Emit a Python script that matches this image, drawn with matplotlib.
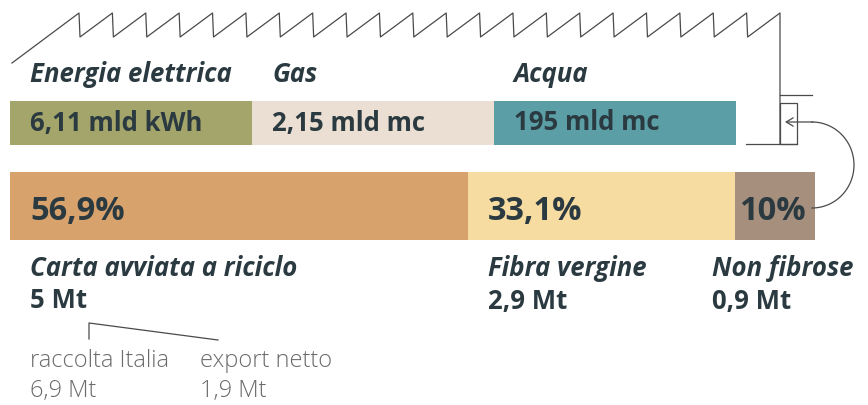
import numpy as np
import matplotlib.pyplot as plt
from matplotlib.patches import Rectangle

# resources consumed (top bar)
res_names = ['Energia elettrica', 'Gas', 'Acqua']
res_values = ['6,11 mld kWh', '2,15 mld mc', '195 mld mc']
res_colors = ['#a3a56b', '#eadfd2', '#5b9ea6']

# fibre mix (bottom bar)
mix_shares = [56.9, 33.1, 10.0]
mix_labels = ['56,9%', '33,1%', '10%']
mix_names = ['Carta avviata a riciclo', 'Fibra vergine', 'Non fibrose']
mix_tons = ['5 Mt', '2,9 Mt', '0,9 Mt']
mix_colors = ['#d7a26c', '#f7dca2', '#a68f7c']

# breakdown of recycled paper
sub_names = ['raccolta Italia', 'export netto']
sub_tons = ['6,9 Mt', '1,9 Mt']

dark = '#2a3a40'
grey = '#6b6b6b'
line_c = '#4a4a4a'
plt.rcParams['font.family'] = ['Open Sans', 'DejaVu Sans']

fig = plt.figure(figsize=(8.68, 4.05), dpi=100)
ax = fig.add_axes([0, 0, 1, 1])
ax.set_xlim(0, 868)
ax.set_ylim(405, 0)
ax.axis('off')

# sawtooth roof
peaks = np.linspace(79, 780, 22)
xs = [12, peaks[0]]
ys = [63, 13]
for p in peaks[1:]:
    xs += [xs[-1] + 1, p]
    ys += [37, 13]
xs += [780]
ys += [144]
ax.plot(xs, ys, color=line_c, lw=0.9)
ax.plot([780, 812], [95, 95], color=line_c, lw=0.9)
ax.add_patch(Rectangle((780, 103), 17, 41, fill=False, ec=line_c, lw=0.9))
ax.plot([746, 797], [144, 144], color=line_c, lw=0.9)

# return loop from "non fibrose" back to the mill
t = np.linspace(-np.pi / 2, np.pi / 2, 60)
ax.plot(812 + 42 * np.cos(t), 165 - 43 * np.sin(t) * -1, color=line_c, lw=0.9)
ax.annotate('', xy=(785, 122), xytext=(813, 122),
            arrowprops=dict(arrowstyle='->,head_length=0.5,head_width=0.3',
                            color=line_c, lw=0.9, shrinkA=0, shrinkB=0))

# top bar
x0, seg = 10, 242
for i, (n, v, c) in enumerate(zip(res_names, res_values, res_colors)):
    left = x0 + i * seg
    ax.add_patch(Rectangle((left, 101), seg, 44, color=c, lw=0))
    ax.text(left + 20, 75, n, fontsize=18.5, fontweight='bold', style='italic',
            color=dark, va='center')
    ax.text(left + 20, 123, v, fontsize=18.5, fontweight='bold', color=dark, va='center')

# bottom bar
total_w = 805
left = 10
text_x = [30, 488, 712]
for i, (s, lab, c) in enumerate(zip(mix_shares, mix_labels, mix_colors)):
    w = s / sum(mix_shares) * total_w
    ax.add_patch(Rectangle((left, 172), w, 68, color=c, lw=0))
    ax.text(left + (20 if i < 2 else 5), 211, lab, fontsize=23.5, fontweight='bold',
            color=dark, va='center')
    left += w
for tx, n, t_ in zip(text_x, mix_names, mix_tons):
    ax.text(tx, 269, n, fontsize=18.5, fontweight='bold', style='italic', color=dark, va='center')
    ax.text(tx, 301, t_, fontsize=18.5, fontweight='bold', color=dark, va='center')

# recycled paper split
ax.plot([89, 89, 218], [339, 323, 340], color=line_c, lw=0.9)
for tx, n, t_ in zip([30, 200], sub_names, sub_tons):
    ax.text(tx, 361, n, fontsize=17, fontweight='light', color=grey, va='center')
    ax.text(tx, 391, t_, fontsize=17, fontweight='light', color=grey, va='center')

fig.savefig('out.png', dpi=100, facecolor='white')
